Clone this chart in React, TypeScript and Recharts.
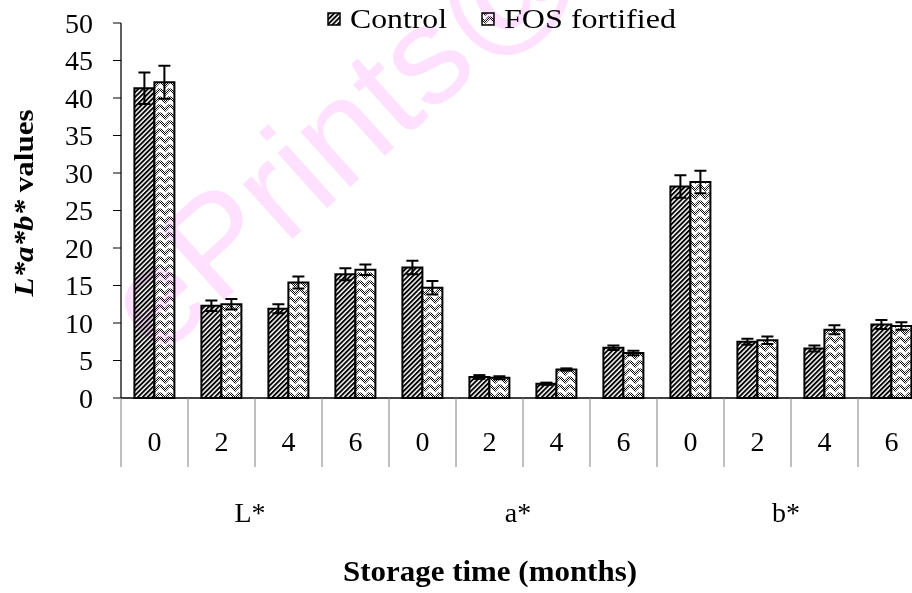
import React from 'react';
import { BarChart, Bar, XAxis, YAxis, Legend, ErrorBar } from 'recharts';

// colour parameters grouped by attribute, four storage months each
const groups = ['L*', 'a*', 'b*'];
const months = ['0', '2', '4', '6'];

const control = [41.3, 12.3, 11.9, 16.5, 17.4, 2.8, 1.9, 6.7, 28.2, 7.5, 6.6, 9.8];
const controlErr = [2.1, 0.7, 0.6, 0.8, 0.9, 0.25, 0.15, 0.3, 1.5, 0.4, 0.4, 0.6];
const fortified = [42.1, 12.5, 15.4, 17.1, 14.7, 2.7, 3.8, 6.0, 28.8, 7.7, 9.1, 9.6];
const fortifiedErr = [2.2, 0.7, 0.8, 0.7, 0.9, 0.2, 0.15, 0.3, 1.5, 0.5, 0.6, 0.5];

const yTicks = [0, 5, 10, 15, 20, 25, 30, 35, 40, 45, 50];

const data = groups.flatMap((group, gi) =>
  months.map((month, mi) => {
    const i = gi * months.length + mi;
    return {
      group,
      month,
      control: control[i],
      controlErr: controlErr[i],
      fos: fortified[i],
      fosErr: fortifiedErr[i],
    };
  })
);

const SERIF = 'Liberation Serif, Times New Roman, serif';
const SANS = 'Liberation Sans, Arial, sans-serif';

// two-level category tick: month digit, dividers at band edges,
// and the group name centred under each block of months
const CategoryTick = ({ x, y, payload, index, width, visibleTicksCount }: any) => {
  const half = payload.offset ?? width / visibleTicksCount / 2;
  const i = payload.index ?? index;
  const isLast = i === data.length - 1;
  const groupCentre = i % months.length === months.length / 2 - 1;
  return (
    <g>
      <line x1={x - half} y1={y} x2={x - half} y2={y + 69} stroke="#808080" strokeWidth={1} />
      {isLast && <line x1={x + half} y1={y} x2={x + half} y2={y + 69} stroke="#808080" strokeWidth={1} />}
      <text x={x} y={y + 53} textAnchor="middle" fontSize={28} fontFamily={SERIF} fill="#000">
        {payload.value}
      </text>
      {groupCentre && (
        <text x={x + half - 5} y={y + 124} textAnchor="middle" fontSize={28} fontFamily={SERIF} fill="#000">
          {data[i].group}
        </text>
      )}
    </g>
  );
};

const YTitle = () => (
  <text
    transform="translate(33, 203) rotate(-90)"
    textAnchor="middle"
    fontFamily={SERIF}
    fontSize={28}
    fontWeight="bold"
    fill="#000"
    textLength={187}
    lengthAdjust="spacingAndGlyphs"
  >
    <tspan fontStyle="italic">L*a*b*</tspan> values
  </text>
);

const XTitle = () => (
  <text
    x={490}
    y={581}
    textAnchor="middle"
    fontFamily={SERIF}
    fontSize={29}
    fontWeight="bold"
    fill="#000"
    textLength={294}
    lengthAdjust="spacingAndGlyphs"
  >
    Storage time (months)
  </text>
);

const legendLayout: Record<string, { x: number; len: number; fill: string }> = {
  control: { x: 328, len: 97, fill: 'url(#ctrlHatch)' },
  fos: { x: 482, len: 172, fill: 'url(#fosZigzag)' },
};

const LegendContent = ({ payload }: any) => (
  <svg width={912} height={40}>
    {(payload || []).map((entry: any) => {
      const l = legendLayout[entry.dataKey];
      return (
        <g key={entry.dataKey}>
          <rect x={l.x} y={13} width={12} height={12} fill={l.fill} stroke="#000" strokeWidth={1.5} />
          <text
            x={l.x + 22}
            y={28}
            fontFamily={SERIF}
            fontSize={28}
            fill="#000"
            textLength={l.len}
            lengthAdjust="spacingAndGlyphs"
          >
            {entry.value}
          </text>
        </g>
      );
    })}
  </svg>
);

export default function App() {
  return (
    <div
      style={{
        position: 'absolute',
        left: 0,
        top: 0,
        width: 912,
        height: 593,
        overflow: 'hidden',
        background: '#fff',
      }}
    >
      <BarChart
        width={930}
        height={593}
        data={data}
        margin={{ top: 23, right: 5, bottom: 35, left: 0 }}
        barCategoryGap="20%"
        barGap={0}
      >
        <defs>
          <pattern id="ctrlHatch" patternUnits="userSpaceOnUse" width={3.4} height={3.4} patternTransform="rotate(45)">
            <rect width={3.4} height={3.4} fill="#fff" />
            <rect width={1.9} height={3.4} fill="#000" />
          </pattern>
          <pattern id="fosDots" patternUnits="userSpaceOnUse" width={2} height={2}>
            <rect width={2} height={2} fill="#fff" />
            <rect width={1} height={1} fill="#000" />
            <rect x={1} y={1} width={1} height={1} fill="#000" />
          </pattern>
          <pattern id="fosZigzag" patternUnits="userSpaceOnUse" width={10} height={8}>
            <rect width={10} height={8} fill="#fff" />
            <polyline points="0,1 5,6 10,1" fill="none" stroke="url(#fosDots)" strokeWidth={3} />
            <polyline points="0,9 5,14 10,9" fill="none" stroke="url(#fosDots)" strokeWidth={3} />
            <polyline points="0,-7 5,-2 10,-7" fill="none" stroke="url(#fosDots)" strokeWidth={3} />
          </pattern>
        </defs>

        <XAxis
          dataKey="month"
          height={160}
          axisLine={{ stroke: '#000', strokeWidth: 1.5 }}
          tickLine={false}
          tickSize={0}
          tickMargin={0}
          interval={0}
          tick={CategoryTick}
          label={{ content: XTitle }}
        />
        <YAxis
          domain={[0, 50]}
          ticks={yTicks}
          width={121}
          axisLine={{ stroke: '#000', strokeWidth: 1.25 }}
          tickLine={{ stroke: '#000', strokeWidth: 1 }}
          tickSize={8}
          tickMargin={20}
          tick={{ fontSize: 28, fill: '#000', fontFamily: SERIF }}
          label={{ content: YTitle }}
        />
        <Legend
          layout="horizontal"
          verticalAlign="middle"
          align="center"
          wrapperStyle={{ top: 0, left: 0 }}
          content={LegendContent}
        />
        <Bar
          dataKey="control"
          name="Control"
          fill="url(#ctrlHatch)"
          stroke="#000"
          strokeWidth={2}
          isAnimationActive={false}
        >
          <ErrorBar dataKey="controlErr" width={6} stroke="#000" strokeWidth={2} isAnimationActive={false} />
        </Bar>
        <Bar
          dataKey="fos"
          name="FOS fortified"
          fill="url(#fosZigzag)"
          stroke="#000"
          strokeWidth={2}
          isAnimationActive={false}
        >
          <ErrorBar dataKey="fosErr" width={6} stroke="#000" strokeWidth={2} isAnimationActive={false} />
        </Bar>
      </BarChart>

      {/* repository stamp laid over the figure */}
      <svg
        width={912}
        height={593}
        style={{ position: 'absolute', left: 0, top: 0, pointerEvents: 'none', mixBlendMode: 'multiply' }}
      >
        <text transform="translate(158, 360) rotate(-42)" fontFamily={SANS} fontSize={140} fill="#FFE0FF">
          ePrints@
        </text>
      </svg>
    </div>
  );
}
